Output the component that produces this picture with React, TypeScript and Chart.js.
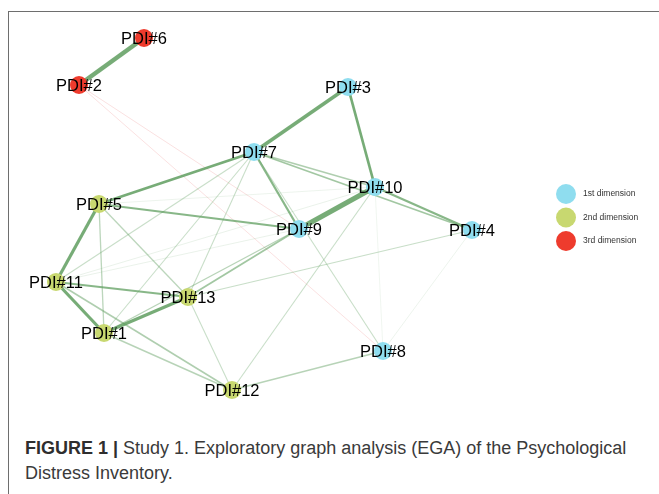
import { useEffect, useRef } from "react";
import { Chart, registerables } from "chart.js";

Chart.register(...registerables);

// Nodes (items) of the EGA network, layout coordinates
const nodeLabels = [
  "PDI#1", "PDI#2", "PDI#3", "PDI#4", "PDI#5", "PDI#6", "PDI#7",
  "PDI#8", "PDI#9", "PDI#10", "PDI#11", "PDI#12", "PDI#13",
];
const nodeX = [104, 79, 348, 472, 99, 144, 254, 383, 299, 375, 56, 232, 188];
const nodeY = [333, 85, 87, 230, 204, 38, 152, 351, 229, 187, 282, 390, 297];
// dimension index (0 = 1st, 1 = 2nd, 2 = 3rd) per node
const nodeDimension = [1, 2, 0, 0, 1, 2, 0, 0, 0, 0, 1, 1, 1];

const dimensionLabels = ["1st dimension", "2nd dimension", "3rd dimension"];
const dimensionColors = ["#8fddef", "#c8d870", "#ee3b2d"];

// Edges: partial correlations (node numbers, 1-based)
const edgeFrom = [6, 10, 7, 3, 5, 11, 13, 7, 5, 11, 7, 10, 7, 7, 13, 1, 11, 1, 12, 12, 12, 13, 7, 7, 7, 5, 5, 7, 4, 10, 11, 11, 5, 2, 2];
const edgeTo = [2, 9, 3, 10, 11, 1, 1, 5, 9, 13, 9, 4, 4, 10, 9, 9, 12, 12, 8, 13, 10, 4, 11, 1, 13, 1, 13, 8, 8, 8, 10, 9, 10, 8, 9];
const edgeWeight = [0.9, 1.0, 0.7, 0.5, 0.6, 0.6, 0.6, 0.5, 0.4, 0.4, 0.4, 0.4, 0.3, 0.25, 0.3, 0.22, 0.25, 0.22, 0.22, 0.15, 0.15, 0.15, 0.15, 0.15, 0.15, 0.2, 0.2, 0.15, 0.05, 0.04, 0.06, 0.06, 0.05, -0.1, -0.1];

const CANVAS_W = 659;
const CANVAS_H = 430;

function edgeColor(w: number) {
  const a = Math.min(0.85, 0.1 + 1.6 * Math.abs(w));
  return w >= 0 ? `rgba(95,158,95,${a})` : `rgba(232,120,120,${Math.min(0.4, a)})`;
}

const nodeLabelPlugin = {
  id: "nodeLabels",
  afterDatasetsDraw(chart: any) {
    const { ctx, scales } = chart;
    ctx.save();
    ctx.font = "16.5px 'Liberation Sans', Arial, sans-serif";
    ctx.fillStyle = "#000";
    ctx.textAlign = "center";
    ctx.textBaseline = "middle";
    nodeLabels.forEach((lab, i) => {
      const px = scales.x.getPixelForValue(nodeX[i]);
      const py = scales.y.getPixelForValue(nodeY[i]);
      ctx.fillText(lab, px, py + 1);
    });
    ctx.restore();
  },
};

const legendPlugin = {
  id: "dimLegend",
  afterDraw(chart: any) {
    const { ctx } = chart;
    ctx.save();
    dimensionLabels.forEach((lab, i) => {
      const cy = 194 + i * 23.5;
      ctx.beginPath();
      ctx.arc(566, cy, 10, 0, Math.PI * 2);
      ctx.fillStyle = dimensionColors[i];
      ctx.fill();
      ctx.font = "8.5px 'Liberation Sans', Arial, sans-serif";
      ctx.fillStyle = "#333";
      ctx.textAlign = "left";
      ctx.textBaseline = "middle";
      ctx.fillText(lab, 583, cy);
    });
    ctx.restore();
  },
};

export default function App() {
  const ref = useRef<HTMLCanvasElement | null>(null);

  useEffect(() => {
    if (!ref.current) return;
    const edgeSets = edgeFrom.map((f, i) => ({
      type: "scatter" as const,
      label: `edge${i}`,
      data: [
        { x: nodeX[f - 1], y: nodeY[f - 1] },
        { x: nodeX[edgeTo[i] - 1], y: nodeY[edgeTo[i] - 1] },
      ],
      showLine: true,
      borderColor: edgeColor(edgeWeight[i]),
      borderWidth: 0.4 + 4.6 * Math.abs(edgeWeight[i]),
      pointRadius: 0,
      pointHoverRadius: 0,
      order: 2,
    }));
    const nodeSets = dimensionLabels.map((lab, d) => ({
      type: "scatter" as const,
      label: lab,
      data: nodeX
        .map((x, i) => ({ x, y: nodeY[i], d: nodeDimension[i] }))
        .filter((p) => p.d === d)
        .map((p) => ({ x: p.x, y: p.y })),
      backgroundColor: dimensionColors[d],
      borderWidth: 0,
      pointRadius: 9,
      pointHoverRadius: 9,
      order: 1,
    }));
    const chart = new Chart(ref.current, {
      type: "scatter",
      data: { datasets: [...nodeSets, ...edgeSets] as any },
      options: {
        animation: false,
        responsive: false,
        devicePixelRatio: 1,
        layout: { padding: 0, autoPadding: false },
        plugins: { legend: { display: false }, tooltip: { enabled: false } },
        scales: {
          x: { type: "linear", min: 0, max: CANVAS_W, display: false },
          y: { type: "linear", min: 0, max: CANVAS_H, reverse: true, display: false },
        },
      },
      plugins: [nodeLabelPlugin, legendPlugin],
    });
    return () => chart.destroy();
  }, []);

  return (
    <div style={{ position: "absolute", left: 0, top: 0, width: 659, height: 494, overflow: "hidden", background: "#fff" }}>
      <div
        style={{
          position: "absolute",
          left: 8,
          top: 11,
          width: 700,
          height: 520,
          borderLeft: "1.5px solid #6e6e6e",
          borderTop: "1.5px solid #6e6e6e",
        }}
      />
      <canvas
        ref={ref}
        width={CANVAS_W}
        height={CANVAS_H}
        style={{ position: "absolute", left: 0, top: 0, width: CANVAS_W, height: CANVAS_H }}
      />
      <div
        style={{
          position: "absolute",
          left: 25,
          top: 436,
          fontFamily: "'Liberation Sans', Arial, sans-serif",
          fontSize: 18,
          lineHeight: "25px",
          color: "#3a3a3a",
          whiteSpace: "nowrap",
        }}
      >
        <div>
          <span style={{ fontWeight: "bold", color: "#2e2e2e" }}>FIGURE 1 |</span> Study 1. Exploratory graph analysis (EGA) of the Psychological
        </div>
        <div>Distress Inventory.</div>
      </div>
    </div>
  );
}
